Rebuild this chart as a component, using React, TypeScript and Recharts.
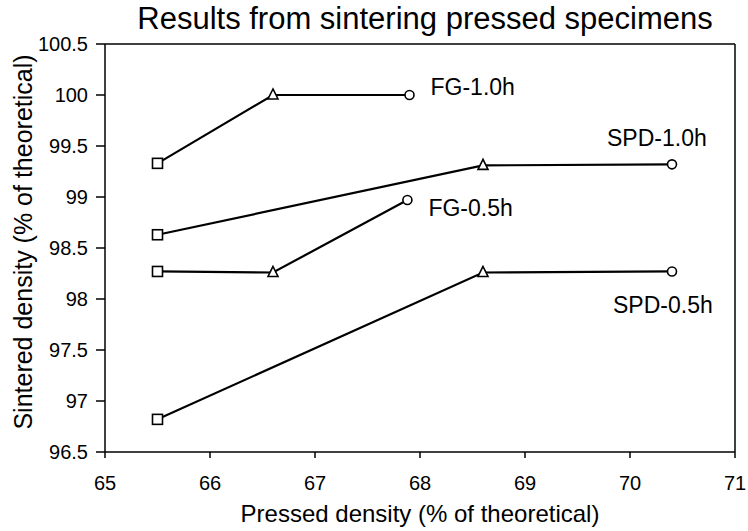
import React from 'react';
import { LineChart, Line, XAxis, YAxis, ReferenceLine, LabelList, Customized } from 'recharts';

const xTicks = [65, 66, 67, 68, 69, 70, 71];
const yTicks = [96.5, 97, 97.5, 98, 98.5, 99, 99.5, 100, 100.5];

const fg10 = [
  { x: 65.5, y: 99.33 },
  { x: 66.6, y: 100.0 },
  { x: 67.9, y: 100.0 },
];
const spd10 = [
  { x: 65.5, y: 98.63 },
  { x: 68.6, y: 99.31 },
  { x: 70.4, y: 99.32 },
];
const fg05 = [
  { x: 65.5, y: 98.27 },
  { x: 66.6, y: 98.26 },
  { x: 67.88, y: 98.97 },
];
const spd05 = [
  { x: 65.5, y: 96.82 },
  { x: 68.6, y: 98.26 },
  { x: 70.4, y: 98.27 },
];

const FONT = 'Liberation Sans, Arial, Helvetica, sans-serif';

const series = [
  { name: 'FG-1.0h', data: fg10, dx: 21, dy: 0 },
  { name: 'SPD-1.0h', data: spd10, dx: -65, dy: -18 },
  { name: 'FG-0.5h', data: fg05, dx: 21, dy: 16 },
  { name: 'SPD-0.5h', data: spd05, dx: -59, dy: 42 },
];

const Marker = (props: any) => {
  const { cx, cy, index } = props;
  const k = `m-${index}-${cx}-${cy}`;
  if (cx == null || cy == null) return <g key={k} />;
  if (index === 0) {
    return <rect key={k} x={cx - 5} y={cy - 5} width={10} height={10} fill="#fff" stroke="#000" strokeWidth={1.6} />;
  }
  if (index === 1) {
    return (
      <polygon
        key={k}
        points={`${cx},${cy - 6} ${cx - 5},${cy + 4} ${cx + 5},${cy + 4}`}
        fill="#fff"
        stroke="#000"
        strokeWidth={1.6}
      />
    );
  }
  return <circle key={k} cx={cx} cy={cy} r={4.5} fill="#fff" stroke="#000" strokeWidth={1.6} />;
};

const Title = () => (
  <text x={425} y={29} textAnchor="middle" fontFamily={FONT} fontSize={31} fill="#000">
    Results from sintering pressed specimens
  </text>
);

export default function App() {
  return (
    <div style={{ position: 'absolute', left: 0, top: 0, width: 748, height: 531, background: '#fff' }}>
      <LineChart width={748} height={531} margin={{ top: 44, right: 13, bottom: 0, left: 0 }}>
        <XAxis
          dataKey="x"
          type="number"
          domain={[65, 71]}
          ticks={xTicks}
          allowDataOverflow
          height={79}
          tickSize={6}
          tickMargin={18}
          stroke="#000"
          strokeWidth={1.5}
          tick={{ fill: '#000', fontSize: 20, fontFamily: FONT }}
          label={{
            content: () => (
              <text x={420} y={522} textAnchor="middle" fontFamily={FONT} fontSize={24} fill="#000">
                Pressed density (% of theoretical)
              </text>
            ),
          }}
        />
        <YAxis
          type="number"
          domain={[96.5, 100.5]}
          ticks={yTicks}
          allowDataOverflow
          width={105}
          tickSize={9}
          tickMargin={8}
          stroke="#000"
          strokeWidth={1.5}
          tick={{ fill: '#000', fontSize: 20, fontFamily: FONT }}
          label={{
            content: () => (
              <text
                x={32}
                y={242}
                transform="rotate(-90, 32, 242)"
                textAnchor="middle"
                fontFamily={FONT}
                fontSize={25}
                fill="#000"
              >
                Sintered density (% of theoretical)
              </text>
            ),
          }}
        />
        <ReferenceLine y={100.5} stroke="#000" strokeWidth={1.5} />
        <ReferenceLine x={71} stroke="#000" strokeWidth={1.5} />
        {series.map((s) => (
          <Line
            key={s.name}
            data={s.data}
            dataKey="y"
            name={s.name}
            stroke="#000"
            strokeWidth={2.2}
            dot={Marker}
            activeDot={false}
            isAnimationActive={false}
          >
            <LabelList
              dataKey="y"
              content={(p: any) =>
                p.index === s.data.length - 1 ? (
                  <text
                    x={p.x + s.dx}
                    y={p.y + s.dy}
                    fontFamily={FONT}
                    fontSize={23}
                    fill="#000"
                  >
                    {s.name}
                  </text>
                ) : null
              }
            />
          </Line>
        ))}
        <Customized component={Title} />
      </LineChart>
    </div>
  );
}
